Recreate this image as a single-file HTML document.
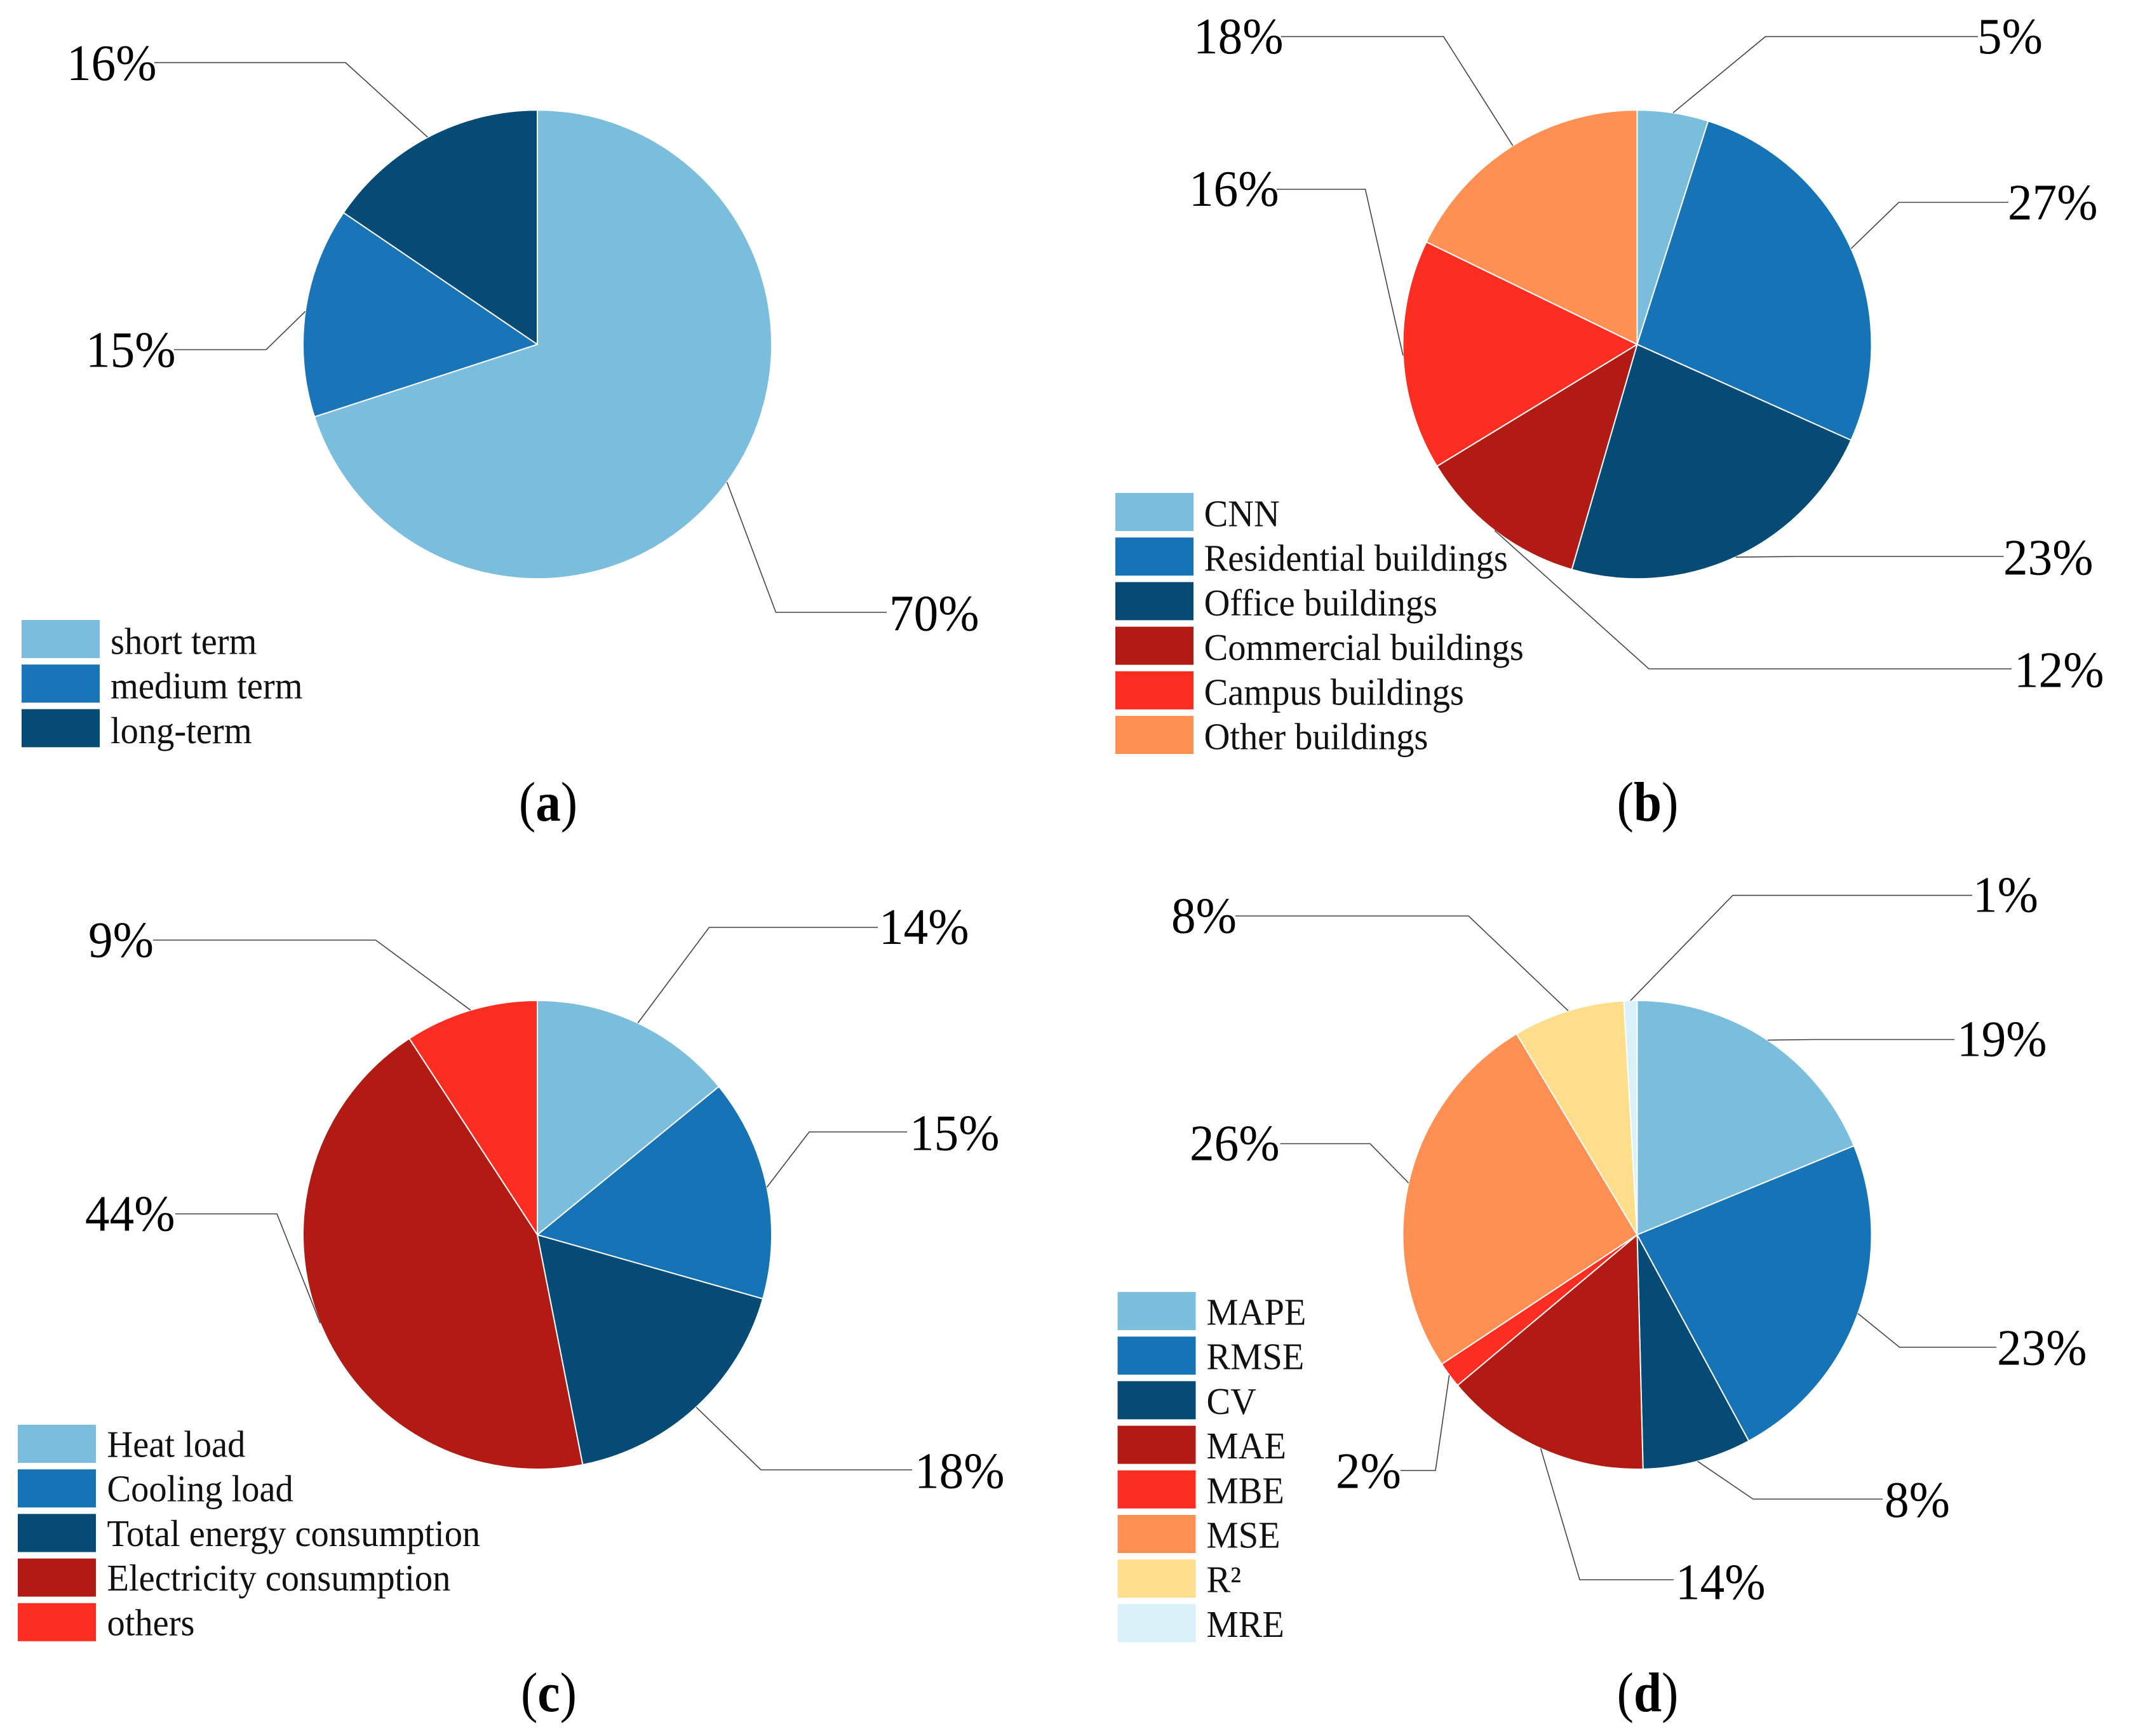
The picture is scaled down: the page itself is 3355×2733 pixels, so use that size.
<!DOCTYPE html>
<html lang="en">
<head>
<meta charset="utf-8">
<title>Pie charts (a)–(d)</title>
<style>
html,body{margin:0;padding:0;background:#fff;}
svg{display:block;font-family:"Liberation Serif",serif;}
.pct{font-size:80px;fill:#000;}
.leg{font-size:59px;fill:#111;}
.cap{font-size:88px;fill:#000;}
</style>
</head>
<body>
<svg id="figure" xmlns="http://www.w3.org/2000/svg" width="3355" height="2733" viewBox="0 0 3355 2733">
<rect width="3355" height="2733" fill="#ffffff"/>
</svg>
<script>
/* ---------- colours ---------- */
const LIGHT='#7bbddd',BLUE='#1573b6',NAVY='#064a76',DARK_RED='#b21b14',RED='#fb2e21',ORANGE='#ff9054',YELLOW='#fedd8b',PALE='#d9f1f7';

/* ---------- panel (a) data ---------- */
const aCategories=['short term','medium term','long-term'];
const aValues=[70,14.5,15.5];
const aLabels=['70%','15%','16%'];

/* ---------- panel (b) data ---------- */
const bCategories=['CNN','Residential buildings','Office buildings','Commercial buildings','Campus buildings','Other buildings'];
const bValues=[4.9,26.8,22.8,11.8,15.9,17.8];
const bLabels=['5%','27%','23%','12%','16%','18%'];

/* ---------- panel (c) data ---------- */
const cCategories=['Heat load','Cooling load','Total energy consumption','Electricity consumption','others'];
const cValues=[14.1,15.3,17.5,43.9,9.2];
const cLabels=['14%','15%','18%','44%','9%'];

/* ---------- panel (d) data ---------- */
const dCategories=['MAPE','RMSE','CV','MAE','MBE','MSE','R²','MRE'];
const dValues=[18.8,23.3,7.5,14.3,1.8,25.7,7.7,0.9];
const dLabels=['19%','23%','8%','14%','2%','26%','8%','1%'];

/* ---------- layout (not data): leader elbow x,y / leader end x / label x,baseline ---------- */
const panels=[
 {id:'a',cats:aCategories,vals:aValues,labels:aLabels,cx:846,cy:542.2,
  colors:[LIGHT,'#1a75b8',NAVY],
  leaders:[[1221.5,964,1396,1400,992.5],[419,550.5,274,135,577.5],[544,98.6,243,105,126]],
  legend:{x:34,top:976,text:174,first:1029.5},
  cap:{x:863,y:1292}},
 {id:'b',cats:bCategories,vals:bValues,labels:bLabels,cx:2577.5,cy:542.2,
  colors:[LIGHT,BLUE,NAVY,DARK_RED,RED,ORANGE],
  leaders:[[2779.5,57.6,3114,3113,84],[2989.5,318.5,3162,3161,345.5],[2835,876,3154.5,3154,904.5],[2596,1053,3167,3171,1081.5],[2149.5,298,2010,1872,324],[2272.7,57.6,2017,1879,84]],
  legend:{x:1756,top:776,text:1895.6,first:828.5},
  cap:{x:2594,y:1292}},
 {id:'c',cats:cCategories,vals:cValues,labels:cLabels,cx:846,cy:1944,
  colors:[LIGHT,BLUE,NAVY,DARK_RED,RED],
  leaders:[[1116.5,1460,1382,1384,1486],[1274,1782,1428,1432,1810.5],[1198,2314,1436,1440,2342.5],[436,1911,276,134,1937.5],[591.5,1480,241,139,1506.5]],
  legend:{x:28,top:2243,text:168.5,first:2293.5},
  cap:{x:864,y:2694}},
 {id:'d',cats:dCategories,vals:dValues,labels:dLabels,cx:2577.5,cy:1944,
  colors:[LIGHT,BLUE,NAVY,DARK_RED,RED,ORANGE,YELLOW,PALE],
  leaders:[[2857,1636.5,3077,3081,1662.5],[2990.6,2121,3143,3144,2148.5],[2760,2360,2964,2967,2388],[2487,2487,2635,2638,2517.5],[2260,2315,2205,2103,2342.5],[2157,1800.5,2015.5,1873,1826.5],[2312,1442,1945,1844,1468.5],[2728,1409.6,3105,3106,1435.5]],
  legend:{x:1759.5,top:2034,text:1899.5,first:2085.5},
  cap:{x:2594,y:2694}}
];
const RADIUS=369, ROW_STEP=70.2, SWATCH_W=123, SWATCH_H=60;
const PCT_STRETCH=0.965, LEG_STRETCH=0.957, CAP_STRETCH=0.9;

const svg=document.getElementById('figure');
const NS='http://www.w3.org/2000/svg';
function make(tag,attrs,parent){
  const el=document.createElementNS(NS,tag);
  for(const k in attrs){el.setAttribute(k,attrs[k]);}
  parent.appendChild(el);
  return el;
}
/* axis function: value -> clockwise angle from 12 o'clock */
function angleScale(vals){
  const total=vals.reduce((s,v)=>s+v,0);
  return v=>v/total*Math.PI*2;
}
function polar(cx,cy,r,a){return [cx+r*Math.sin(a),cy-r*Math.cos(a)];}
function place(x,y,sx){return `translate(${x} ${y}) scale(${sx} 1)`;}

panels.forEach(p=>{
  const g=make('g',{},svg);
  
  
  const toAngle=angleScale(p.vals);

  /* slices */
  let cum=0;
  const mids=[];
  p.vals.forEach((v,i)=>{
    const a0=toAngle(cum),a1=toAngle(cum+v);
    cum+=v;
    mids.push((a0+a1)/2);
    const s=polar(p.cx,p.cy,RADIUS,a0),e=polar(p.cx,p.cy,RADIUS,a1);
    const large=(a1-a0)>Math.PI?1:0;
    const path=make('path',{d:`M${p.cx} ${p.cy}L${s[0]} ${s[1]}A${RADIUS} ${RADIUS} 0 ${large} 1 ${e[0]} ${e[1]}Z`,fill:p.colors[i],stroke:'#ffffff','stroke-width':2,'stroke-linejoin':'round'},g);
    
    
  });

  /* leaders and percentage labels */
  p.vals.forEach((v,i)=>{
    const s=polar(p.cx,p.cy,RADIUS,mids[i]);
    const L=p.leaders[i];
    const line=make('polyline',{points:`${s[0]},${s[1]} ${L[0]},${L[1]} ${L[2]},${L[1]}`,fill:'none',stroke:'#444444','stroke-width':1.6},g);
    
    
    const t=make('text',{transform:place(L[3],L[4],PCT_STRETCH),class:'pct'},g);
    t.textContent=p.labels[i];
    
    
  });

  /* legend */
  p.cats.forEach((c,i)=>{
    const r=make('rect',{x:p.legend.x,y:p.legend.top+i*ROW_STEP,width:SWATCH_W,height:SWATCH_H,fill:p.colors[i]},g);
    
    
    const t=make('text',{transform:place(p.legend.text,p.legend.first+i*ROW_STEP,LEG_STRETCH),class:'leg'},g);
    t.textContent=c;
    
    
  });

  /* caption */
  const cap=make('text',{transform:place(p.cap.x,p.cap.y,CAP_STRETCH),class:'cap','text-anchor':'middle'},g);
  
  
  make('tspan',{},cap).textContent='(';
  make('tspan',{'font-weight':'bold'},cap).textContent=p.id;
  make('tspan',{},cap).textContent=')';
});
</script>
</body>
</html>
